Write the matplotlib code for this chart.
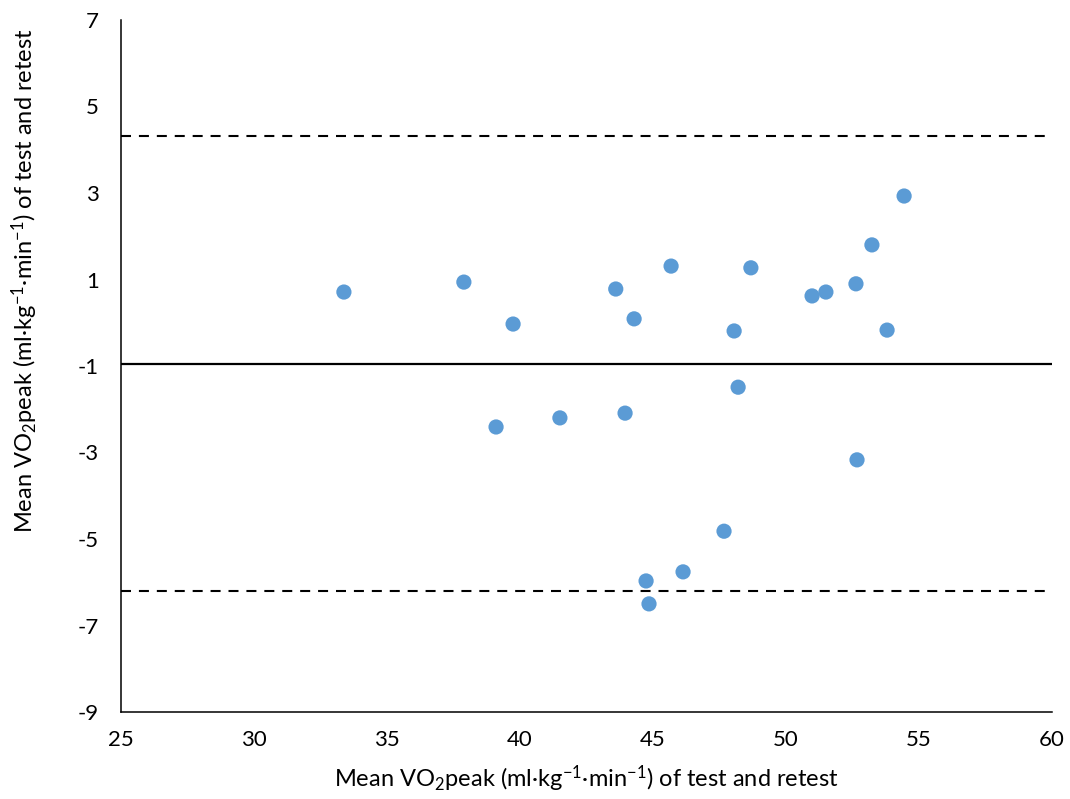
import matplotlib
matplotlib.use("Agg")
import matplotlib.pyplot as plt

# Data
mean_vo2 = [33.38, 37.89, 39.74, 39.10, 41.50, 43.60, 44.29, 43.95, 45.68, 48.68,
            48.05, 48.20, 50.98, 51.50, 52.63, 53.23, 54.44, 53.80, 52.67, 47.67,
            46.13, 44.74, 44.85]
diff_vo2 = [0.71, 0.94, -0.03, -2.41, -2.20, 0.78, 0.09, -2.09, 1.31, 1.27,
            -0.19, -1.49, 0.62, 0.71, 0.90, 1.80, 2.93, -0.17, -3.17, -4.82,
            -5.76, -5.97, -6.50]
bias = -0.95
upper_loa = 4.32
lower_loa = -6.20
x_ticks = [25, 30, 35, 40, 45, 50, 55, 60]
y_ticks = [7, 5, 3, 1, -1, -3, -5, -7, -9]

plt.rcParams['font.family'] = ['Lato', 'DejaVu Sans']
plt.rcParams['mathtext.default'] = 'regular'
plt.rcParams['axes.unicode_minus'] = False

fig = plt.figure(figsize=(10.7, 7.99), dpi=100)
ax = fig.add_axes([121/1070, 1-712/799, (1052-121)/1070, (712-20)/799])

ax.scatter(mean_vo2, diff_vo2, s=120, color='#5B9BD5', edgecolors='none', zorder=3)
ax.axhline(bias, color='black', lw=1.6, zorder=2)
ax.axhline(upper_loa, color='black', lw=1.5, linestyle=(0, (4.8, 3.8)), zorder=2)
ax.axhline(lower_loa, color='black', lw=1.5, linestyle=(0, (4.8, 3.8)), zorder=2)

ax.set_xlim(25, 60)
ax.set_ylim(-9, 7)
ax.set_xticks(x_ticks)
ax.set_yticks(y_ticks)
ax.tick_params(length=0, labelsize=16, colors='#000000')
ax.tick_params(axis='y', pad=16)
ax.tick_params(axis='x', pad=13)

for s in ['top', 'right']:
    ax.spines[s].set_visible(False)
for s in ['left', 'bottom']:
    ax.spines[s].set_linewidth(1.1)
    ax.spines[s].set_color('black')

label = r"Mean VO$_2$peak (ml·kg$^{-1}$·min$^{-1}$) of test and retest"
ax.set_xlabel(label, fontsize=17)
ax.set_ylabel(label, fontsize=17)
ax.xaxis.set_label_coords(0.5, -0.075)
ax.yaxis.set_label_coords(-0.087, 0.623)

fig.savefig("out.png", dpi=100)
